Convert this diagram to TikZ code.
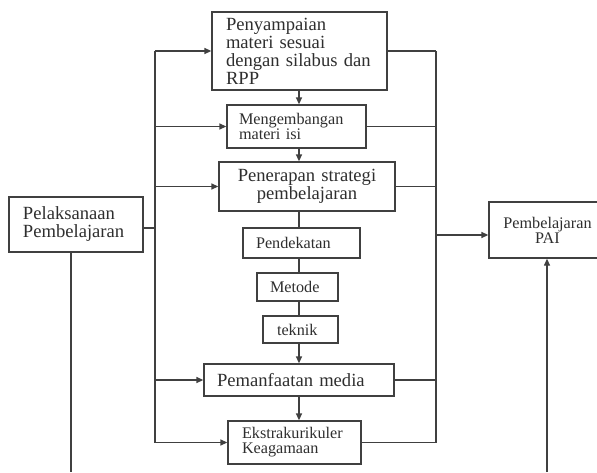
\documentclass[tikz,border=0pt]{standalone}
\usepackage{fontspec}
\setmainfont{Liberation Serif}
\usetikzlibrary{arrows.meta}
\begin{document}
\begin{tikzpicture}[x=1pt,y=-1pt,
  line width=1.3pt, draw=black!75, text=black!82,
  box/.style={draw, rectangle, inner ysep=0pt, align=left},
  big/.style={font=\fontsize{18.6}{18}\selectfont},
  small/.style={font=\fontsize{16.2}{15}\selectfont},
  arr/.style={-{Triangle[length=7pt,width=6pt]}}]
\useasboundingbox (0,0) rectangle (597,472);
% boxes
\node[box,big,minimum width=175pt,minimum height=78pt,inner xsep=14pt,text width=147pt] (b1) at (299.5,51) {Penyampaian\\materi sesuai\\dengan silabus dan\\RPP};
\node[box,small,minimum width=139pt,minimum height=43pt,inner xsep=12pt,text width=115pt] (b2) at (296.5,126.5) {Mengembangan\\materi isi};
\node[box,big,minimum width=176pt,minimum height=49pt,inner xsep=8pt,text width=160pt,align=center] (b3) at (307,186.5) {Penerapan strategi\\ pembelajaran};
\node[box,small,minimum width=117pt,minimum height=30pt,inner xsep=13pt,text width=91pt] (b4) at (301.5,243) {Pendekatan};
\node[box,small,minimum width=81pt,minimum height=28pt,inner xsep=13pt,text width=55pt] (b5) at (297.5,287) {Metode};
\node[box,small,minimum width=75pt,minimum height=27pt,inner xsep=14pt,text width=47pt] (b6) at (300.5,329.5) {teknik};
\node[box,big,minimum width=190pt,minimum height=32pt,inner xsep=13pt,text width=164pt] (b7) at (299,380) {Pemanfaatan media};
\node[box,small,minimum width=133pt,minimum height=43pt,inner xsep=14pt,text width=105pt] (b8) at (294.5,442.5) {Ekstrakurikuler\\Keagamaan};
\node[box,big,minimum width=134pt,minimum height=55pt,inner xsep=14pt,text width=106pt] (lf) at (76,224.5) {Pelaksanaan\\Pembelajaran};
\node[box,small,minimum width=117pt,minimum height=56pt,inner xsep=6pt,text width=105pt,align=center] (rt) at (547.5,230) {Pembelajaran\\PAI};
% bus coordinates
\coordinate (bl) at (155,0);
\coordinate (br) at (436,0);
\coordinate (lb) at (71,472);
\coordinate (rb) at (547,472);
% central column
\draw[arr] (b1.south -| 299,0) -- (b2.north -| 299,0);
\draw[arr] (b2.south -| 299,0) -- (b3.north -| 299,0);
\draw (b3.south -| 299,0) -- (b4.north -| 299,0);
\draw (b4.south -| 299,0) -- (b5.north -| 299,0);
\draw (b5.south -| 299,0) -- (b6.north -| 299,0);
\draw[arr] (b6.south -| 299,0) -- (b7.north -| 299,0);
\draw[arr] (b7.south -| 299,0) -- (b8.north -| 299,0);
% left bus
\draw (lf.east |- 0,228) -- (bl |- 0,228);
\draw (bl |- b1.west) -- (bl |- b8.west);
\draw[arr] (bl |- b1.west) -- (b1.west);
\draw[arr] (bl |- b2.west) -- (b2.west);
\draw[arr] (bl |- b3.west) -- (b3.west);
\draw[arr] (bl |- b7.west) -- (b7.west);
\draw[arr] (bl |- b8.west) -- (b8.west);
% right bus
\draw (b1.east) -- (br |- b1.east);
\draw (b2.east) -- (br |- b2.east);
\draw (b3.east) -- (br |- b3.east);
\draw (b7.east) -- (br |- b7.east);
\draw (b8.east) -- (br |- b8.east);
\draw (br |- b1.east) -- (br |- b8.east);
\draw[arr] (br |- 0,235) -- (rt.west |- 0,235);
% bottom lines
\draw (lb |- lf.south) -- (lb);
\draw[arr] (rb) -- (rt.south -| rb);
\end{tikzpicture}
\end{document}
